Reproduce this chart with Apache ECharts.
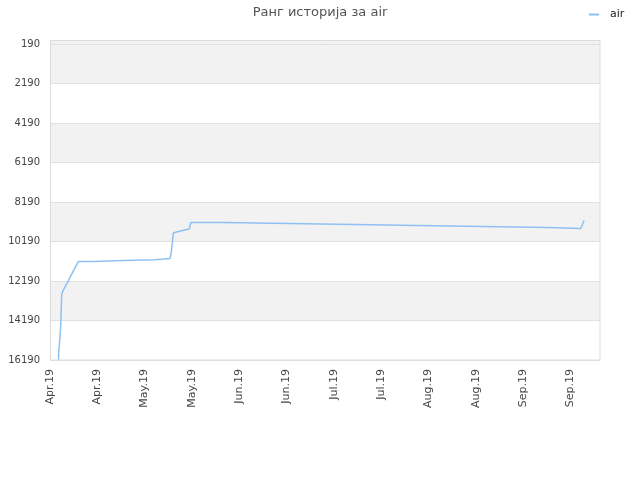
<!DOCTYPE html>
<html>
<head>
<meta charset="utf-8">
<script src="https://cdn.jsdelivr.net/npm/echarts@6/dist/echarts.min.js"></script>
<style>html,body{margin:0;padding:0;background:#fff}#c{width:640px;height:480px}</style>
</head>
<body>
<div id="c"></div>
<script>
// Days since 2019-04-01 (x) and rank (y) at each vertex of the line
const dayOffsets = [2.9, 2.9, 3.3, 3.3, 3.6, 3.6, 3.95, 3.95, 4.3, 9.6, 14.9, 14.9, 24.8, 24.8, 35.5, 35.5, 40.6, 41.0, 41.3, 41.7, 42.0, 42.85, 44.5, 45.9, 47.1, 47.6, 58.6, 58.6, 80.6, 80.6, 102.6, 102.6, 124.5, 124.5, 146.5, 146.5, 168.5, 168.5, 179.5, 180.6];
const ranks      = [16190, 15880, 15830, 15170, 15170, 14510, 14510, 12890, 12720, 11200, 11200, 11150, 11150, 11110, 11110, 11050, 11050, 10750, 10350, 9760, 9760, 9710, 9650, 9600, 9560, 9225, 9225, 9275, 9275, 9325, 9325, 9380, 9380, 9430, 9430, 9480, 9480, 9530, 9530, 9125];
const xTickLabels = ['Apr.19','Apr.19','May.19','May.19','Jun.19','Jun.19','Jul.19','Jul.19','Aug.19','Aug.19','Sep.19','Sep.19'];
const seriesName = 'air';
const titleText = 'Ранг историја за air';

const data = dayOffsets.map((d, i) => [d, ranks[i]]);
const FONT = 'DejaVu Sans';
const chart = echarts.init(document.getElementById('c'), null, {renderer: 'canvas'});
chart.setOption({
  animation: false,
  title: {
    text: titleText, left: 'center', top: 1,
    textStyle: {fontFamily: FONT, fontSize: 13, fontWeight: 'normal', color: '#555'}
  },
  legend: {
    left: 584, top: 4, icon: 'rect', itemWidth: 10, itemHeight: 2,
    textStyle: {fontFamily: FONT, fontSize: 11, color: '#222', padding: [0, 0, 0, 6]},
    data: [seriesName]
  },
  grid: {left: 50, right: 40, top: 44, bottom: 120},
  graphic: [
    {type: 'rect', z: -10, silent: true, shape: {x: 50, y: 40, width: 550, height: 4}, style: {fill: '#f2f2f2'}},
    {type: 'rect', z: 100, silent: true, shape: {x: 50.5, y: 40.5, width: 549.5, height: 319.5}, style: {fill: 'none', stroke: '#dcdcdc', lineWidth: 1}}
  ],
  xAxis: {
    type: 'value', min: 0, max: 186, interval: 16,
    axisLine: {show: false}, axisTick: {show: false}, splitLine: {show: false},
    axisLabel: {
      rotate: 90, margin: 9, fontFamily: FONT, fontSize: 11, color: '#444',
      showMaxLabel: false,
      formatter: v => { const i = Math.round(v / 16); return (Math.abs(v - i * 16) < 1e-6 && xTickLabels[i]) ? xTickLabels[i] : ''; }
    }
  },
  yAxis: {
    type: 'value', inverse: true, min: 190, max: 16190, interval: 2000,
    axisLine: {show: false}, axisTick: {show: false},
    axisLabel: {margin: 10, fontFamily: FONT, fontSize: 10, color: '#444', formatter: v => String(v)},
    splitLine: {lineStyle: {color: '#e0e0e0', width: 1}},
    splitArea: {show: true, areaStyle: {color: ['#f2f2f2', '#ffffff']}}
  },
  series: [{
    name: seriesName, type: 'line', data: data, symbol: 'none',
    color: '#8ec1f3',
    lineStyle: {width: 1.5, color: '#8ec1f3'}
  }]
});
</script>
</body>
</html>
